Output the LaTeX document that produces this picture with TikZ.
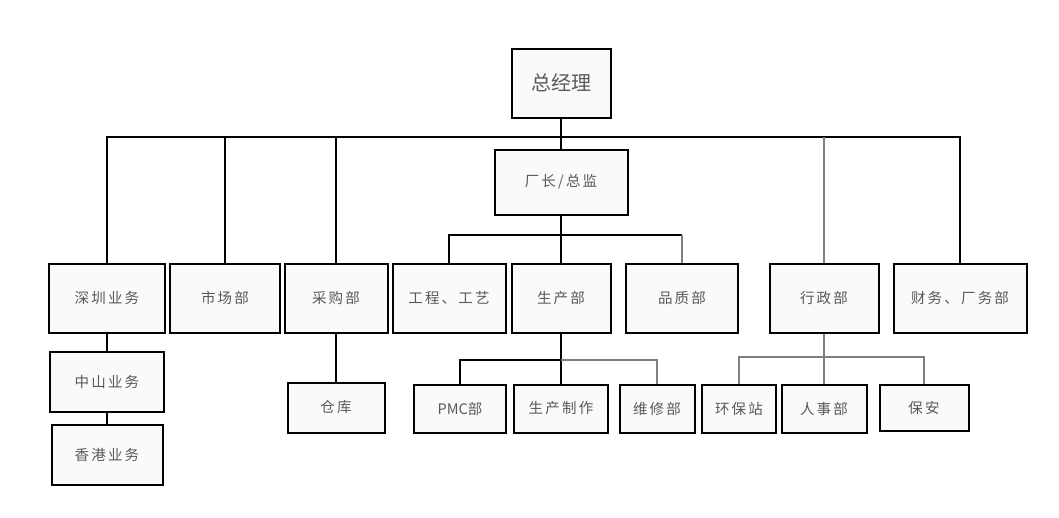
\documentclass[tikz,border=0pt]{standalone}
\usepackage{fontspec}
\newfontfamily\cjk[LetterSpace=15]{Noto Sans CJK SC}
\newfontfamily\cjkbig{Noto Sans CJK SC}
\definecolor{boxfill}{HTML}{FAFAFA}
\definecolor{boxtext}{HTML}{595959}
\definecolor{linkgray}{HTML}{7F7F7F}
\begin{document}
\begin{tikzpicture}[x=1pt,y=-1pt,
  dept/.style={rectangle, draw=black, line width=2pt, fill=boxfill, text=boxtext, inner sep=0pt, font=\fontsize{14.5}{16}\cjk},
  link/.style={draw=black, line width=1.7pt},
  glink/.style={draw=linkgray, line width=1.7pt}]
\path[fill=white, use as bounding box] (0,0) rectangle (1059,517);
\node [dept, minimum width=99pt, minimum height=69pt, font=\fontsize{20}{22}\cjkbig] (gm) at (561,83) {总经理};
\node [dept, minimum width=133pt, minimum height=65pt] (dir) at (561,182) {厂长/总监};
\node [dept, minimum width=116pt, minimum height=69pt] (sz) at (107,298) {深圳业务};
\node [dept, minimum width=110pt, minimum height=69pt] (mkt) at (225,298) {市场部};
\node [dept, minimum width=103pt, minimum height=69pt] (pur) at (336,298) {采购部};
\node [dept, minimum width=113pt, minimum height=69pt] (eng) at (449,298) {工程、工艺};
\node [dept, minimum width=99pt, minimum height=69pt] (prod) at (561,298) {生产部};
\node [dept, minimum width=112pt, minimum height=69pt] (qa) at (682,298) {品质部};
\node [dept, minimum width=109pt, minimum height=69pt] (adm) at (824,298) {行政部};
\node [dept, minimum width=133pt, minimum height=69pt] (fin) at (960,298) {财务、厂务部};
\node [dept, minimum width=114pt, minimum height=60pt] (zs) at (107,381.5) {中山业务};
\node [dept, minimum width=111pt, minimum height=60pt] (hk) at (107,454.5) {香港业务};
\node [dept, minimum width=97pt, minimum height=50pt] (wh) at (336,407.5) {仓库};
\node [dept, minimum width=92pt, minimum height=48pt, font=\fontsize{14.5}{16}\cjkbig] (pmc) at (460,408.5) {PMC部};
\node [dept, minimum width=94pt, minimum height=48pt] (mfg) at (561,408.5) {生产制作};
\node [dept, minimum width=75pt, minimum height=48pt] (mnt) at (657,408.5) {维修部};
\node [dept, minimum width=74pt, minimum height=48pt] (env) at (739,408.5) {环保站};
\node [dept, minimum width=85pt, minimum height=48pt] (hr) at (824,408.5) {人事部};
\node [dept, minimum width=89pt, minimum height=46pt] (sec) at (924,407.5) {保安};
\coordinate (bus) at (561,137);
\coordinate (dbus) at (561,235);
\coordinate (pbus) at (561,360);
\coordinate (abus) at (824,357);
\draw [link] (gm) -- (dir);
\draw [link] (sz.north) |- (bus) -| (fin.north);
\draw [link] (mkt.north) -- (mkt.north |- bus);
\draw [link] (pur.north) -- (pur.north |- bus);
\draw [glink] (adm.north) -- (adm.north |- bus);
\draw [link] (sz) -- (zs);
\draw [link] (zs) -- (hk);
\draw [link] (pur) -- (wh);
\draw [link] (eng.north) |- (qa.north |- dbus);
\draw [glink] (qa.north) -- (qa.north |- dbus);
\draw [link] (dir) -- (prod);
\draw [link] (pmc.north) |- (pbus);
\draw [link] (prod) -- (mfg);
\draw [glink] (pbus) -| (mnt.north);
\draw [glink] (env.north) |- (abus) -| (sec.north);
\draw [glink] (adm) -- (hr);
\end{tikzpicture}
\end{document}
